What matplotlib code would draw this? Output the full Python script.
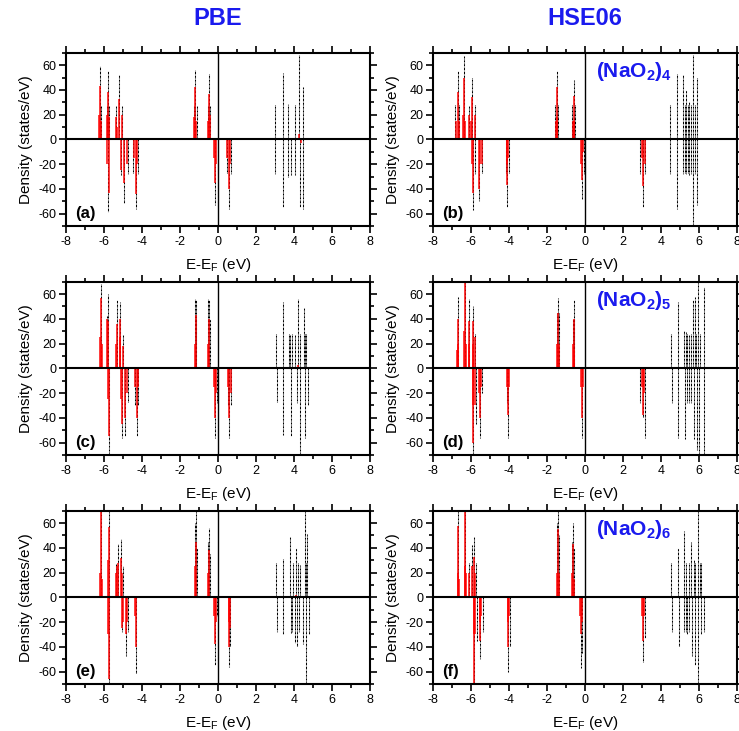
import matplotlib
matplotlib.use("Agg")
import matplotlib.pyplot as plt
from matplotlib.ticker import MultipleLocator

plt.rcParams["font.family"] = ["Liberation Sans", "DejaVu Sans"]
plt.rcParams["mathtext.fontset"] = "custom"
plt.rcParams["mathtext.rm"] = "Liberation Sans"
plt.rcParams["mathtext.bf"] = "Liberation Sans:bold"
plt.rcParams["axes.unicode_minus"] = False

# ── data: spike positions (eV) and signed densities (states/eV) ──
a_black_E = [-6.2, -6.15, -5.85, -5.8, -5.75, -5.36, -5.2, -5.03, -1.25, -1.19, -1.12, -0.53, -0.47, -0.41,
             3.02, 3.41, 3.72, 4.05, 4.28, 4.49,
             -5.8, -5.1, -4.94, -4.75, -4.45, -4.33, -4.2, -0.14, 0.0, 0.49, 0.59, 0.7,
             3.02, 3.41, 3.72, 3.84, 4.05, 4.33, 4.49]
a_black_v = [59, 27, 27, 55, 27, 27, 52, 27, 27, 56, 27, 27, 53, 27,
             28, 54, 29, 28, 68, 42,
             -59, -29, -51, -28, -27, -56, -28, -53, -28, -27, -56, -28,
             -28, -55, -30, -29, -29, -55, -56]
a_red_E = [-6.25, -6.2, -6.15, -5.85, -5.8, -5.75, -5.38, -5.3, -5.2, -5.03, -1.25, -1.19, -1.13,
           -0.52, -0.47, -0.42, 4.28,
           -5.82, -5.76, -5.1, -4.94, -4.8, -4.4, -4.33, -4.26, -0.2, -0.14, -0.08, 0.5, 0.59, 0.66, 4.4]
a_red_v = [20, 43, 15, 20, 38, 18, 18, 10, 33, 20, 18, 42, 15,
           15, 37, 20, 4,
           -20, -43, -25, -35, -20, -15, -44, -20, -15, -35, -20, -15, -40, -20, -3]

b_black_E = [-6.83, -6.71, -6.62, -6.36, -6.13, -5.95, -5.78, -1.55, -1.49, -1.43, -0.66, -0.6, -0.54,
             4.5, 4.85, 5.15, 5.25, 5.32, 5.42, 5.5, 5.6, 5.67, 5.78, 5.9,
             -5.92, -5.78, -5.6, -5.43, -4.17, -4.08, -4.0, -0.18, -0.05, 2.89, 3.05, 3.19,
             4.5, 4.85, 5.15, 5.25, 5.32, 5.42, 5.5, 5.6, 5.67, 5.78, 5.9]
b_black_v = [28, 55, 28, 67, 27, 50, 28, 28, 55, 28, 28, 48, 28,
             28, 53, 52, 28, 40, 28, 30, 28, 68, 28, 50,
             -57, -28, -50, -27, -27, -55, -27, -48, -28, -28, -55, -28,
             -28, -56, -28, -27, -28, -27, -29, -28, -70, -28, -53]
b_red_E = [-6.78, -6.71, -6.65, -6.4, -6.36, -6.32, -6.13, -5.98, -5.95, -5.78, -1.53, -1.49, -1.45,
           -0.64, -0.6, -0.56,
           -5.95, -5.9, -5.6, -5.55, -5.43, -4.12, -4.08, -4.03, -0.22, -0.18, -0.12, 3.0, 3.05, 3.19]
b_red_v = [15, 38, 15, 20, 50, 15, 20, 15, 34, 20, 15, 42, 18,
           15, 35, 15,
           -20, -43, -40, -20, -20, -20, -37, -15, -20, -33, -10, -15, -38, -20]

c_black_E = [-6.15, -5.85, -5.8, -5.33, -5.15, -5.01, -1.2, -1.17, -1.13, -0.5, -0.47, -0.44,
             3.06, 3.41, 3.76, 3.8, 3.9, 4.07, 4.21, 4.33, 4.54, 4.6, 4.66,
             -5.76, -5.07, -4.89, -4.72, -4.35, -4.28, -4.22, -0.17, -0.05, 0.55, 0.61, 0.68,
             3.09, 3.44, 3.84, 4.16, 4.31, 4.6, 4.75]
c_black_v = [68, 42, 60, 55, 54, 27, 56, 55, 40, 56, 55, 40,
             28, 54, 28, 27, 28, 27, 56, 28, 49, 28, 28,
             -70, -56, -55, -27, -30, -55, -30, -56, -28, -30, -56, -30,
             -27, -54, -55, -28, -70, -56, -30]
c_red_E = [-6.2, -6.15, -6.1, -5.83, -5.8, -5.35, -5.33, -5.17, -5.15, -5.01, -1.2, -1.17, -0.5, -0.47, 4.21,
           -5.78, -5.76, -5.1, -5.07, -4.89, -4.8, -4.35, -4.28, -4.22, -0.22, -0.17, -0.1, 0.55, 0.61, 0.68]
c_red_v = [25, 57, 20, 40, 38, 20, 36, 25, 40, 18, 20, 43, 20, 40, 3,
           -25, -55, -25, -45, -40, -20, -15, -40, -15, -15, -40, -20, -15, -40, -20]

d_black_E = [-6.71, -6.32, -6.1, -5.88, -5.78, -1.45, -1.42, -1.38, -0.63, -0.6, -0.57,
             4.54, 4.9, 5.2, 5.32, 5.4, 5.5, 5.6, 5.67, 5.78, 5.85, 5.95, 6.05, 6.25,
             -5.88, -5.74, -5.53, -5.43, -4.13, -4.03, -0.18, 2.92, 3.05, 3.19,
             4.59, 4.9, 5.29, 5.4, 5.5, 5.6, 5.73, 5.9, 6.02, 6.25]
d_black_v = [58, 70, 56, 50, 28, 45, 57, 45, 40, 55, 40,
             28, 54, 30, 29, 28, 27, 28, 55, 58, 28, 70, 28, 66,
             -70, -45, -56, -20, -28, -56, -56, -28, -40, -56,
             -28, -56, -57, -28, -28, -28, -57, -66, -70, -70]
d_red_E = [-6.75, -6.71, -6.67, -6.35, -6.32, -6.28, -6.12, -6.1, -5.9, -5.88, -5.8, -1.45, -1.42, -1.38,
           -0.63, -0.6, -0.57,
           -5.9, -5.88, -5.8, -5.56, -5.53, -5.45, -4.08, -4.03, -3.98, -0.22, -0.18, -0.12, 3.0, 3.05, 3.12]
d_red_v = [15, 40, 20, 30, 70, 20, 38, 20, 20, 38, 25, 20, 45, 20,
           20, 40, 15,
           -30, -60, -30, -20, -40, -15, -15, -38, -15, -15, -40, -15, -15, -38, -20]

e_black_E = [-6.15, -5.76, -5.36, -5.24, -5.1, -5.01, -1.2, -1.17, -1.12, -0.5, -0.47, -0.44,
             3.06, 3.44, 3.81, 3.97, 4.14, 4.2, 4.33, 4.58, 4.66, 4.72,
             -5.76, -5.07, -4.84, -4.72, -4.31, -0.17, -0.05, 0.61, 0.66,
             3.14, 3.44, 3.84, 3.9, 4.07, 4.19, 4.3, 4.49, 4.66, 4.8]
e_black_v = [70, 70, 27, 43, 47, 25, 60, 70, 40, 45, 56, 35,
             28, 31, 49, 28, 40, 28, 26, 70, 28, 51,
             -70, -28, -47, -28, -62, -55, -15, -56, -40,
             -28, -30, -29, -28, -37, -40, -28, -38, -70, -30]
e_red_E = [-6.2, -6.15, -6.1, -5.8, -5.76, -5.36, -5.3, -5.24, -5.1, -5.05, -1.2, -1.17, -0.5, -0.47,
           -5.8, -5.76, -5.07, -5.0, -4.84, -4.78, -4.35, -4.31, -0.2, -0.17, -0.1, 0.58, 0.61, 0.66, 4.14]
e_red_v = [20, 70, 15, 30, 57, 20, 25, 28, 32, 20, 25, 45, 20, 38,
           -30, -66, -25, -20, -30, -20, -15, -40, -15, -38, -20, -20, -40, -25, 2]

f_black_E = [-6.67, -6.3, -6.1, -5.95, -5.83, -5.74, -1.45, -1.42, -1.38, -0.66, -0.63, -0.6,
             4.55, 4.9, 5.24, 5.35, 5.46, 5.6, 5.73, 5.8, 5.94, 6.05, 6.13,
             -5.83, -5.71, -5.52, -5.39, -4.03, -3.95, -0.23, -0.14, 3.05, 3.19,
             4.59, 4.94, 5.2, 5.3, 5.38, 5.5, 5.64, 5.81, 5.95, 6.1, 6.25]
f_black_v = [70, 70, 28, 42, 49, 28, 60, 70, 50, 45, 60, 40,
             28, 40, 54, 28, 28, 45, 30, 28, 70, 28, 28,
             -70, -35, -50, -28, -60, -40, -57, -45, -52, -33,
             -28, -40, -28, -28, -30, -28, -47, -55, -70, -30, -28]
f_red_E = [-6.7, -6.67, -6.63, -6.33, -6.3, -6.27, -6.1, -5.95, -5.83, -5.78, -1.45, -1.42, -1.38,
           -0.66, -0.63, -0.6,
           -5.86, -5.83, -5.78, -5.55, -5.52, -5.45, -4.06, -4.03, -3.98, -0.26, -0.23, -0.15, 3.0, 3.05, 3.1]
f_red_v = [20, 58, 15, 25, 70, 20, 20, 25, 33, 20, 20, 55, 20,
           20, 43, 15,
           -30, -70, -30, -20, -35, -15, -20, -40, -15, -15, -30, -20, -15, -35, -15]

panel_labels = ["(a)", "(b)", "(c)", "(d)", "(e)", "(f)"]
cluster_labels = [r"$\mathbf{(NaO_2)_4}$", r"$\mathbf{(NaO_2)_5}$", r"$\mathbf{(NaO_2)_6}$"]
column_titles = ["PBE", "HSE06"]

panels = [
    (a_black_E, a_black_v, a_red_E, a_red_v),
    (b_black_E, b_black_v, b_red_E, b_red_v),
    (c_black_E, c_black_v, c_red_E, c_red_v),
    (d_black_E, d_black_v, d_red_E, d_red_v),
    (e_black_E, e_black_v, e_red_E, e_red_v),
    (f_black_E, f_black_v, f_red_E, f_red_v),
]

BLUE = "#1a1aee"

fig = plt.figure(figsize=(7.39, 7.31), dpi=100)
lefts = [0.0893, 0.586]
bottoms = [0.6908, 0.3776, 0.0643]
width, height = 0.411, 0.237

for i, (bE, bv, rE, rv) in enumerate(panels):
    row, col = divmod(i, 2)
    ax = fig.add_axes([lefts[col], bottoms[row], width, height])

    # total DOS (black dash-dot) and partial DOS (red)
    ax.vlines(bE, 0, bv, colors="black", linewidth=0.75,
              linestyles=(0, (2.0, 0.6, 0.5, 0.6)))
    ax.vlines(rE, 0, rv, colors="red", linewidth=1.2, alpha=0.9)

    ax.axhline(0, color="black", linewidth=1.5)
    ax.axvline(0, color="black", linewidth=1.0)

    ax.set_xlim(-8, 8)
    ax.set_ylim(-70, 70)
    ax.xaxis.set_major_locator(MultipleLocator(2))
    ax.xaxis.set_minor_locator(MultipleLocator(1))
    ax.yaxis.set_major_locator(MultipleLocator(20))
    ax.yaxis.set_minor_locator(MultipleLocator(10))
    ax.tick_params(which="both", direction="out", top=True, right=True,
                   labelsize=9, width=1.2)
    ax.tick_params(which="major", length=5, pad=2)
    ax.tick_params(which="minor", length=3)
    for sp in ax.spines.values():
        sp.set_linewidth(1.5)

    ax.set_xlabel(r"E-E$_{\mathrm{F}}$ (eV)", fontsize=11, labelpad=6)
    ax.set_ylabel("Density (states/eV)", fontsize=11, labelpad=4)
    ax.text(-7.5, -60, panel_labels[i], fontsize=12, fontweight="bold",
            ha="left", va="center")

    if col == 1:
        ax.text(0.6, 55, cluster_labels[row], fontsize=15, color=BLUE,
                ha="left", va="center")

for col, title in enumerate(column_titles):
    fig.text(lefts[col] + width / 2, 0.975, title, fontsize=17,
             fontweight="bold", color=BLUE, ha="center", va="center")

plt.savefig("out.png", dpi=100)
